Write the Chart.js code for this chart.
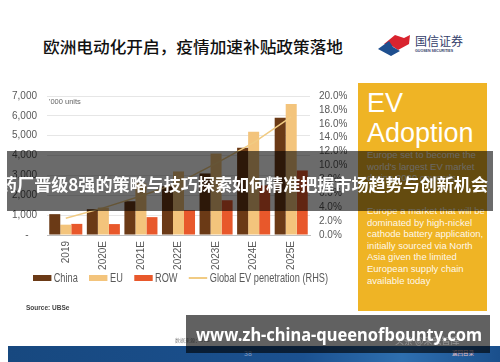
<!DOCTYPE html>
<html><head><meta charset="utf-8">
<script src="https://cdn.jsdelivr.net/npm/chart.js@4.4.1/dist/chart.umd.min.js"></script>
<style>
html,body{margin:0;padding:0;background:#fff;}
#page{position:relative;width:500px;height:362px;overflow:hidden;background:#fff;font-family:"Liberation Sans",Arial,sans-serif;}
.abs{position:absolute;white-space:nowrap;}
#title{left:43px;top:35px;font-family:"Noto Sans CJK SC";font-weight:500;font-size:16px;color:#111;line-height:22px;}
#units{left:49px;top:97px;font-size:7.5px;color:#666;}
#source{left:26px;top:304px;font-size:6.5px;color:#444;font-weight:bold;}
#legend{left:33px;top:271px;display:flex;align-items:center;font-size:12px;line-height:14px;color:#595959;font-family:"Liberation Sans",Arial,sans-serif;}
#legend .it{display:flex;align-items:center;margin-right:15px;}
#legend .sw{width:24px;margin-right:3px;}
#box{left:358px;top:83px;width:129px;height:228px;background:#EFB425;}
#ev{left:367px;top:88px;font-size:27px;color:#fff;line-height:30px;}
#p1,#p2{left:367px;font-size:9.5px;line-height:11.6px;color:rgba(255,255,255,0.92);white-space:normal;width:120px;}
#p1{top:149px;}
#p2{top:205px;}
#band1{left:7px;top:151px;width:486px;height:60px;background:rgba(0,0,0,0.58);}
#band1t{left:0;top:172px;font-family:"Noto Sans CJK SC";font-weight:700;font-size:17px;line-height:24px;color:#fff;}
#foot{left:8px;top:346px;width:492px;height:16px;background:linear-gradient(90deg,#17487f 0%,#1b5190 60%,#2e6fb0 80%,#1a4f8c 100%);}
#pg{left:244px;top:350px;font-size:7px;color:#7f9cc4;}
#back{left:452px;top:349px;font-size:5.5px;color:#f2c6c6;font-family:"Noto Sans CJK SC";}
#srcnote{left:175px;top:336px;font-size:5px;color:#888;font-family:"Noto Sans CJK SC";}
#band2{left:186px;top:315px;width:304px;height:38px;background:rgba(0,0,0,0.62);}
#band2t{left:196px;top:322px;font-family:"Noto Sans","DejaVu Sans",sans-serif;font-weight:700;font-size:18px;line-height:24px;color:#fff;}
#wm{left:395px;top:334px;font-family:"Noto Sans CJK SC";font-size:9px;color:rgba(255,255,255,0.35);}
</style></head>
<body><div id="page">
<div id="title" class="abs">欧洲电动化开启，疫情加速补贴政策落地</div>
<svg class="abs" style="left:376px;top:32px" width="40" height="26" viewBox="0 0 40 26">
  <polygon points="8,12 19,3 28,6 34,3 33,12 22,18 16,14" fill="#d9232e"/>
  <polygon points="2,17 13,9 17,15 24,19 15,24" fill="#1e4f8f"/>
</svg>
<div class="abs" style="left:415px;top:33px;font-family:'Noto Sans CJK SC';font-size:12px;color:#34406b;line-height:16px;">国信证券</div>
<div class="abs" style="left:415px;top:49px;font-size:3.6px;color:#34406b;font-weight:bold;">GUOSEN SECURITIES</div>

<div class="abs" style="left:0;top:80px;"><canvas id="c" width="356" height="200"></canvas></div>
<div id="units" class="abs">'000 units</div>
<div id="legend" class="abs"></div>
<div id="source" class="abs">Source: UBSe</div>

<div id="box" class="abs"></div>
<div id="ev" class="abs">EV<br>Adoption</div>
<div id="p1" class="abs">Europe set to become the world's largest EV market during 2020 onwards</div>
<div id="p2" class="abs">Europe a market that will be dominated by high-nickel cathode battery application, initially sourced via North Asia given the limited European supply chain available today</div>

<div id="band1" class="abs"></div>
<div id="band1t" class="abs">药厂晋级8强的策略与技巧探索如何精准把握市场趋势与创新机会</div>

<div id="srcnote" class="abs">数据来源：UBS</div>
<div id="foot" class="abs"></div>
<div id="pg" class="abs">38</div>
<div id="back" class="abs">返回目录</div>
<div id="band2" class="abs"></div>
<div id="band2t" class="abs">www.zh-china-queenofbounty.com</div>
<div id="wm" class="abs">头条 @未来智库</div>
</div>
<script>
const categories = ["2019","2020E","2021E","2022E","2023E","2024E","2025E"];
const chinaSales = [1050, 1300, 1700, 2450, 3100, 4400, 5900];
const euSales = [520, 1380, 2600, 3200, 4100, 5200, 6600];
const rowSales = [560, 550, 900, 1250, 1750, 2500, 3250];
const evPenetration = [2.4, 3.9, 5.6, 7.5, 10.3, 13.3, 17.0];
const leftTicks = [0, 1000, 2000, 3000, 4000, 5000, 6000, 7000];
const rightTicks = [0, 2, 4, 6, 8, 10, 12, 14, 16, 18, 20];
const seriesNames = ["China", "EU", "ROW", "Global EV penetration (RHS)"];
const seriesColors = ["#6B3A16", "#F3C47C", "#E8582B", "#F1CB83"];

function fit(id, w){
  const el=document.getElementById(id);
  const cur=el.getBoundingClientRect().width;
  el.style.transformOrigin='0 50%';
  el.style.transform='scaleX('+(w/cur)+')';
}

const tickFont = {family:"'Liberation Sans', Arial, sans-serif", size:10};
const chart = new Chart(document.getElementById('c'), {
  data: {
    labels: categories,
    datasets: [
      {type:'line', label:seriesNames[3], data:evPenetration, yAxisID:'y2', borderColor:seriesColors[3], borderWidth:1.5, pointRadius:0, tension:0, order:0},
      {type:'bar', label:seriesNames[0], data:chinaSales, yAxisID:'y', backgroundColor:seriesColors[0], categoryPercentage:0.88, barPercentage:1.0, order:1},
      {type:'bar', label:seriesNames[1], data:euSales, yAxisID:'y', backgroundColor:seriesColors[1], categoryPercentage:0.88, barPercentage:1.0, order:2},
      {type:'bar', label:seriesNames[2], data:rowSales, yAxisID:'y', backgroundColor:seriesColors[2], categoryPercentage:0.88, barPercentage:1.0, order:3}
    ]
  },
  options: {
    responsive:false, animation:false, devicePixelRatio:1,
    layout:{padding:{top:10,left:0,right:0,bottom:0}},
    plugins:{legend:{display:false}, tooltip:{enabled:false}},
    scales:{
      x:{
        grid:{display:false, drawTicks:false},
        border:{display:true, color:'#bfbfbf'},
        ticks:{color:'#595959', font:tickFont, minRotation:90, maxRotation:90, autoSkip:false, padding:6},
        afterFit(s){ s.height = 45; }
      },
      y:{
        position:'left', min:leftTicks[0], max:leftTicks[leftTicks.length-1],
        afterBuildTicks(s){ s.ticks = leftTicks.map(v=>({value:v})); },
        grid:{color:(ctx)=> ctx.tick && ctx.tick.value===0 ? '#bfbfbf' : '#e6e6e6', drawTicks:false},
        border:{display:false},
        ticks:{color:'#595959', font:tickFont, padding:10, autoSkip:false,
          callback:(v)=> v===0 ? '-   ' : v.toLocaleString('en-US')},
        afterFit(s){ s.width = 47; }
      },
      y2:{
        position:'right', min:rightTicks[0], max:rightTicks[rightTicks.length-1],
        afterBuildTicks(s){ s.ticks = rightTicks.map(v=>({value:v})); },
        grid:{display:false, drawTicks:false},
        border:{display:false},
        ticks:{color:'#595959', font:tickFont, padding:9, autoSkip:false, callback:(v)=> v.toFixed(1)+'%'},
        afterFit(s){ s.width = 46; }
      }
    }
  }
});

// legend built from the chart's datasets
const legend = document.getElementById('legend');
const order = [1,2,3,0];
order.forEach(i=>{
  const ds = chart.data.datasets[i];
  const it = document.createElement('div'); it.className='it';
  const sw = document.createElement('div'); sw.className='sw';
  if (ds.type==='line'){ sw.style.height='1.5px'; sw.style.background=ds.borderColor; }
  else { sw.style.height='6px'; sw.style.background=ds.backgroundColor; }
  const tx = document.createElement('span'); tx.textContent = ds.label;
  it.appendChild(sw); it.appendChild(tx); legend.appendChild(it);
});
legend.lastChild.style.marginRight='0';

fit('title', 300);
fit('band1t', 488);
fit('band2t', 286);
fit('legend', 295);
</script>
</body></html>
